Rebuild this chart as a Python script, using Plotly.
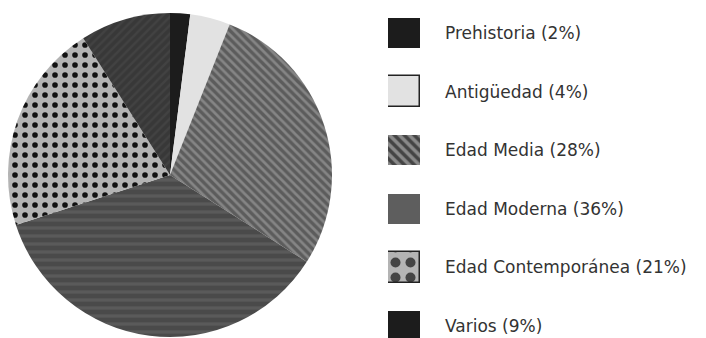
import plotly.graph_objects as go

categories = ["Prehistoria", "Antigüedad", "Edad Media", "Edad Moderna", "Edad Contemporánea", "Varios"]
percentages = [2, 4, 28, 36, 21, 9]

# pie styles
fill_colors = ["#1c1c1c", "#e2e2e2", "#5c5c5c", "#4a4a4a", "#b4b4b4", "#383838"]
pattern_shapes = ["", "", "\\", "-", ".", "/"]
pattern_fg = ["#1c1c1c", "#e2e2e2", "#858585", "#5a5a5a", "#111111", "#424242"]
pattern_size = [8, 8, 6, 8, 10, 6]
pattern_solid = [0.3, 0.3, 0.45, 0.4, 0.25, 0.4]

# legend swatch styles
sw_colors = ["#1c1c1c", "#e2e2e2", "#8a8a8a", "#5e5e5e", "#b4b4b4", "#1c1c1c"]
sw_shapes = ["", "", "\\", "", ".", ""]
sw_fg = ["#1c1c1c", "#e2e2e2", "#404040", "#5e5e5e", "#111111", "#1c1c1c"]
sw_size = [8, 8, 7, 8, 15, 8]
sw_solid = [0.3, 0.3, 0.5, 0.3, 0.35, 0.3]
sw_line = [0, 1.5, 0, 0, 1.5, 0]

W, H = 706, 338

fig = go.Figure()

cx, cy, r = 170, 175, 162
fig.add_trace(go.Pie(
    labels=categories,
    values=percentages,
    sort=False,
    direction="clockwise",
    rotation=0,
    textinfo="none",
    showlegend=False,
    domain=dict(x=[(cx - r) / W, (cx + r) / W], y=[(H - cy - r) / H, (H - cy + r) / H]),
    marker=dict(
        colors=fill_colors,
        line=dict(width=0),
        pattern=dict(shape=pattern_shapes, fgcolor=pattern_fg, bgcolor=fill_colors,
                     size=pattern_size, solidity=pattern_solid, fillmode="overlay",
                     fgopacity=1),
    ),
))

fig.add_trace(go.Bar(
    y=categories,
    x=[1] * len(categories),
    orientation="h",
    width=0.52,
    xaxis="x",
    yaxis="y",
    showlegend=False,
    marker=dict(
        color=sw_colors,
        line=dict(width=sw_line, color="#222222"),
        pattern=dict(shape=sw_shapes, fgcolor=sw_fg,
                     size=sw_size, solidity=sw_solid, fillmode="overlay",
                     fgopacity=1),
    ),
))

row0_px, row_step = 33, 58.6
r_top = -row0_px / row_step
r_bot = (H - row0_px) / row_step

for cat, p in zip(categories, percentages):
    fig.add_annotation(
        x=443 / W, xref="paper", y=cat, yref="y",
        text=f"{cat} ({p}%)", showarrow=False, xanchor="left", yanchor="middle",
        font=dict(family="DejaVu Sans", size=17, color="#333333"),
    )

fig.update_layout(
    width=W, height=H,
    margin=dict(l=0, r=0, t=0, b=0),
    paper_bgcolor="white",
    plot_bgcolor="rgba(0,0,0,0)",
    xaxis=dict(domain=[388 / W, 420 / W], range=[0, 1], visible=False, fixedrange=True),
    yaxis=dict(domain=[0, 1], range=[r_bot, r_top], visible=False, type="category",
               categoryorder="array", categoryarray=categories, fixedrange=True),
    bargap=0,
)

fig.write_html("out.html")
